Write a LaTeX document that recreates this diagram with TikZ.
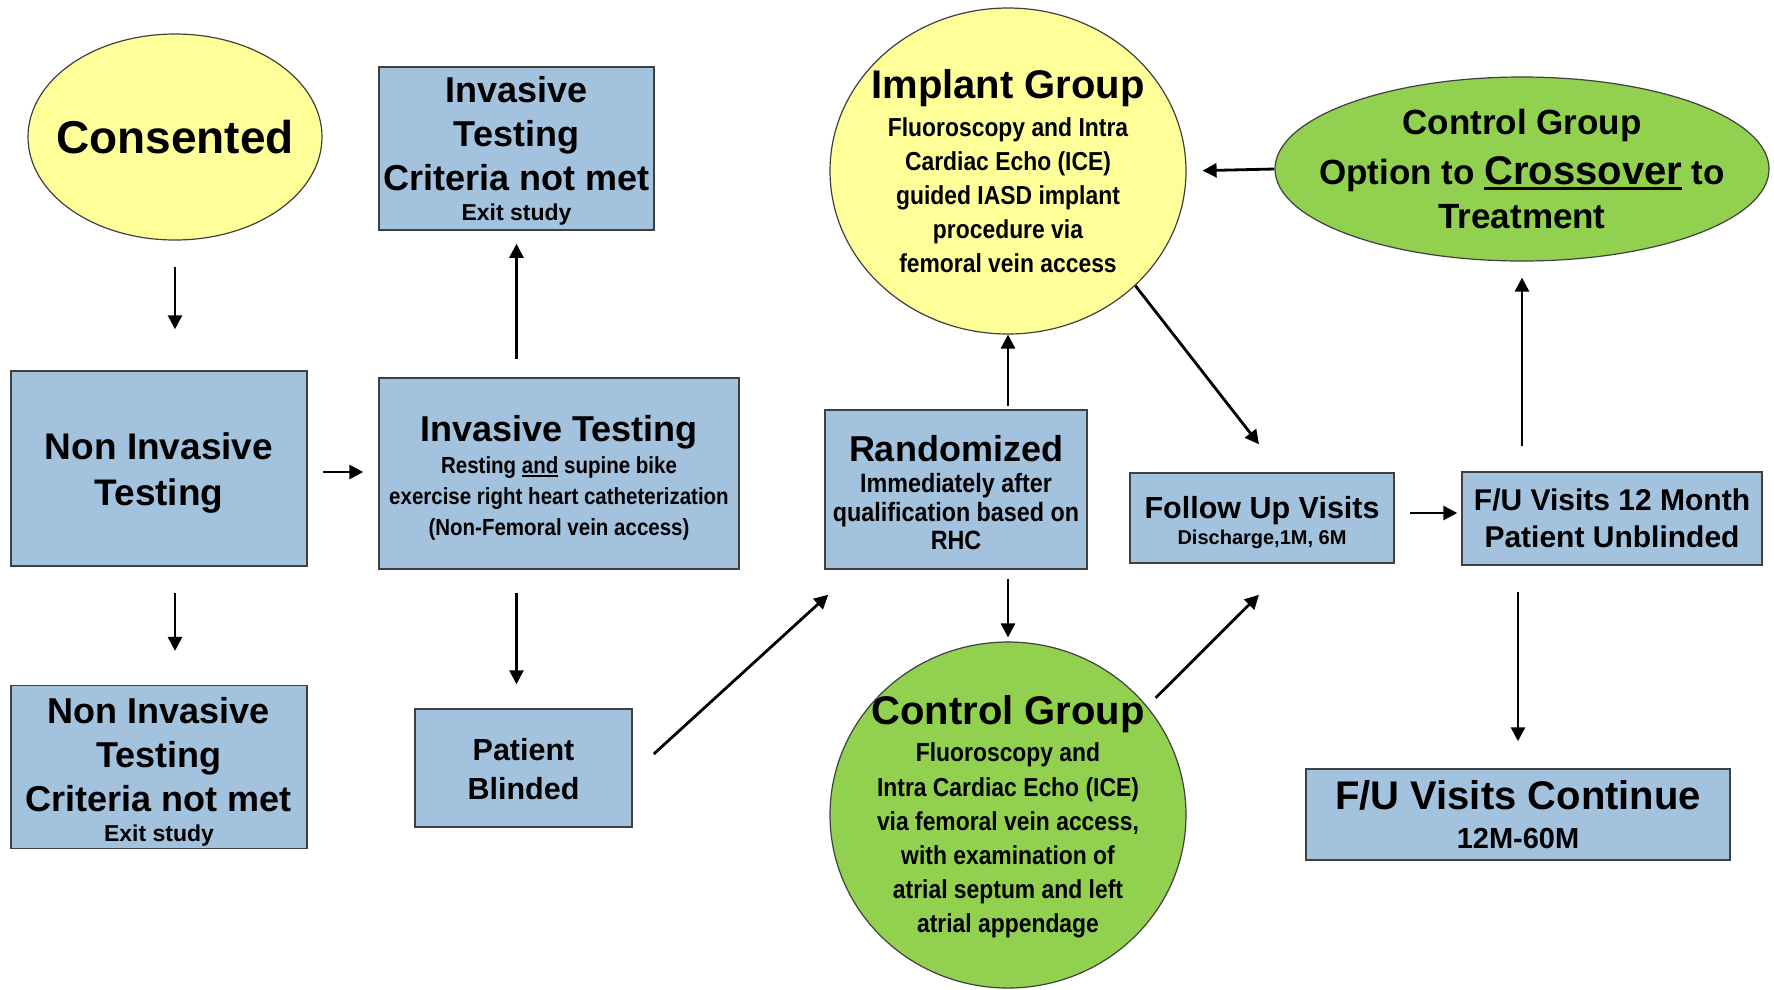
\documentclass[tikz,border=0pt]{standalone}
\usepackage{fontspec}
\setmainfont{Liberation Sans}
\newfontfamily\narrowfont{Liberation Sans}[FakeStretch=0.88]
\usepackage{tikz}
\usetikzlibrary{arrows.meta, calc, positioning, shapes.geometric}
\definecolor{boxblue}{RGB}{163,194,221}
\definecolor{ovalyellow}{RGB}{255,255,153}
\definecolor{ovalgreen}{RGB}{146,208,80}
\newcommand\headfont[1]{\normalfont\bfseries\fontsize{#1}{#1}\selectfont}
\newcommand\bodyfont[2]{\narrowfont\bfseries\fontsize{#1}{#2}\selectfont}
\newcommand\plainfont[2]{\normalfont\bfseries\fontsize{#1}{#2}\selectfont}
\newcommand\ulinetext[1]{\setbox0\hbox{#1}\leavevmode\rlap{\rule[-0.13em]{\wd0}{0.075em}}\box0\relax}
\newcommand\padtop[1]{\rule{0pt}{#1pt}}
\tikzset{
  box/.style={draw=black!75, line width=1.5pt, fill=boxblue, align=center, inner sep=2pt},
  oval/.style={ellipse, draw=black!75, line width=1.2pt, align=center, inner sep=-40pt},
  flow/.style={line width=2.8pt, -{Triangle[length=14pt,width=14pt]}},
}
\begin{document}
\begin{tikzpicture}[x=1pt, y=-1pt]
  \fill[white] (0,0) rectangle (1774,989);
  \useasboundingbox (0,0) rectangle (1774,989);

  \node[oval, fill=ovalyellow, minimum width=294pt, minimum height=206pt] (cons) at (175,137) {\headfont{46}Consented};
  \node[box, minimum width=275pt, minimum height=163pt, font=\plainfont{36}{44}] (invfail) at (516.5,148.5)
    {\padtop{31}Invasive\\Testing\\Criteria not met\\[-14pt]{\plainfont{23}{23}Exit study}};
  \node[box, minimum width=296pt, minimum height=195pt, font=\plainfont{37}{46}] (noninv) at (159,468.5)
    {\padtop{36.5}Non Invasive\\Testing};
  \node[box, minimum width=360pt, minimum height=191pt, font=\bodyfont{23.3}{31}] (invtest) at (559,473.5)
    {{\headfont{36}\padtop{35}Invasive Testing}\\[1.5pt]Resting \ulinetext{and} supine bike\\exercise right heart catheterization\\(Non-Femoral vein access)};
  \node[box, minimum width=296pt, minimum height=160pt, font=\plainfont{36}{44}] (nonfail) at (159,767)
    {\padtop{36}Non Invasive\\Testing\\Criteria not met\\[-14pt]{\plainfont{23}{23}Exit study}};
  \node[box, minimum width=217pt, minimum height=118pt, font=\plainfont{30.5}{39}] (blind) at (523.5,768)
    {\padtop{25}Patient\\Blinded};
  \node[box, minimum width=262pt, minimum height=159pt, font=\bodyfont{26.5}{28.5}] (rand) at (956,489.5)
    {{\headfont{36}\padtop{32}Randomized}\\[3pt]Immediately after\\qualification based on\\RHC};
  \node[oval, fill=ovalyellow, minimum width=356pt, minimum height=326pt, font=\bodyfont{26}{34}] (implant) at (1008,171)
    {{\headfont{40}Implant Group}\\[3.5pt]Fluoroscopy and Intra\\Cardiac Echo (ICE)\\guided IASD implant\\procedure via\\femoral vein access};
  \node[oval, fill=ovalgreen, minimum width=356pt, minimum height=346pt, font=\bodyfont{26}{34.2}] (ctrl) at (1008,815)
    {{\headfont{40}\padtop{33}Control Group}\\[3pt]Fluoroscopy and\\Intra Cardiac Echo (ICE)\\via femoral vein access,\\with examination of\\atrial septum and left\\atrial appendage};
  \node[box, minimum width=264pt, minimum height=90pt, font=\plainfont{20}{26}] (follow) at (1262,518)
    {{\headfont{30.5}\padtop{32}Follow Up Visits}\\Discharge,1M, 6M};
  \node[box, minimum width=300pt, minimum height=93pt, font=\plainfont{30}{37}] (fu12) at (1612,518.5)
    {F/U Visits 12 Month\\Patient Unblinded};
  \node[oval, fill=ovalgreen, minimum width=494pt, minimum height=184pt, font=\plainfont{35}{44}] (cross) at (1522,169)
    {Control Group\\[6pt]Option to {\plainfont{40}{44}\ulinetext{Crossover}} to\\Treatment};
  \node[box, minimum width=424pt, minimum height=91pt, font=\plainfont{29}{39}] (fucont) at (1518,814.5)
    {{\headfont{40}F/U Visits Continue}\\12M-60M};

  \draw[flow, shorten <=26pt, shorten >=41pt] (cons.south) -- (cons.south |- noninv.north);
  \draw[flow, shorten <=26pt, shorten >=34pt] (noninv.south -| cons.south) -- (nonfail.north -| cons.south);
  \draw[flow, shorten <=15pt, shorten >=15pt] ($(noninv.east)+(0,3.5)$) -- ($(noninv.east -| invtest.west)+(0,3.5)$);
  \draw[flow, shorten <=18pt, shorten >=13pt] (invtest.north -| invfail.south) -- (invfail.south);
  \draw[flow, shorten <=23pt, shorten >=24pt] (invtest.south -| invfail.south) -- (blind.north -| invfail.south);
  \draw[flow] ($(blind.east)+(21,-14)$) -- ($(rand.south west)+(4,25)$);
  \draw[flow, shorten <=3pt] (rand.north -| implant.south) -- (implant.south);
  \draw[flow, shorten <=9pt, shorten >=4pt] (rand.south -| ctrl.north) -- (ctrl.north);
  \draw[flow] (implant.-42) -- ($(follow.north)+(-3,-28)$);
  \draw[flow, shorten <=12pt] (ctrl.38) -- ($(follow.south)+(-3,31)$);
  \draw[flow, shorten <=15pt, shorten >=4pt] ($(follow.east)+(0,-5)$) -- ($(follow.east -| fu12.west)+(0,-5)$);
  \draw[flow, shorten <=25pt, shorten >=16pt] (fu12.north -| cross.south) -- (cross.south);
  \draw[flow, shorten >=16pt] (cross.west) -- (implant.east);
  \draw[flow, shorten <=26pt, shorten >=27pt] (fu12.south -| fucont.north) -- (fucont.north);
\end{tikzpicture}
\end{document}
